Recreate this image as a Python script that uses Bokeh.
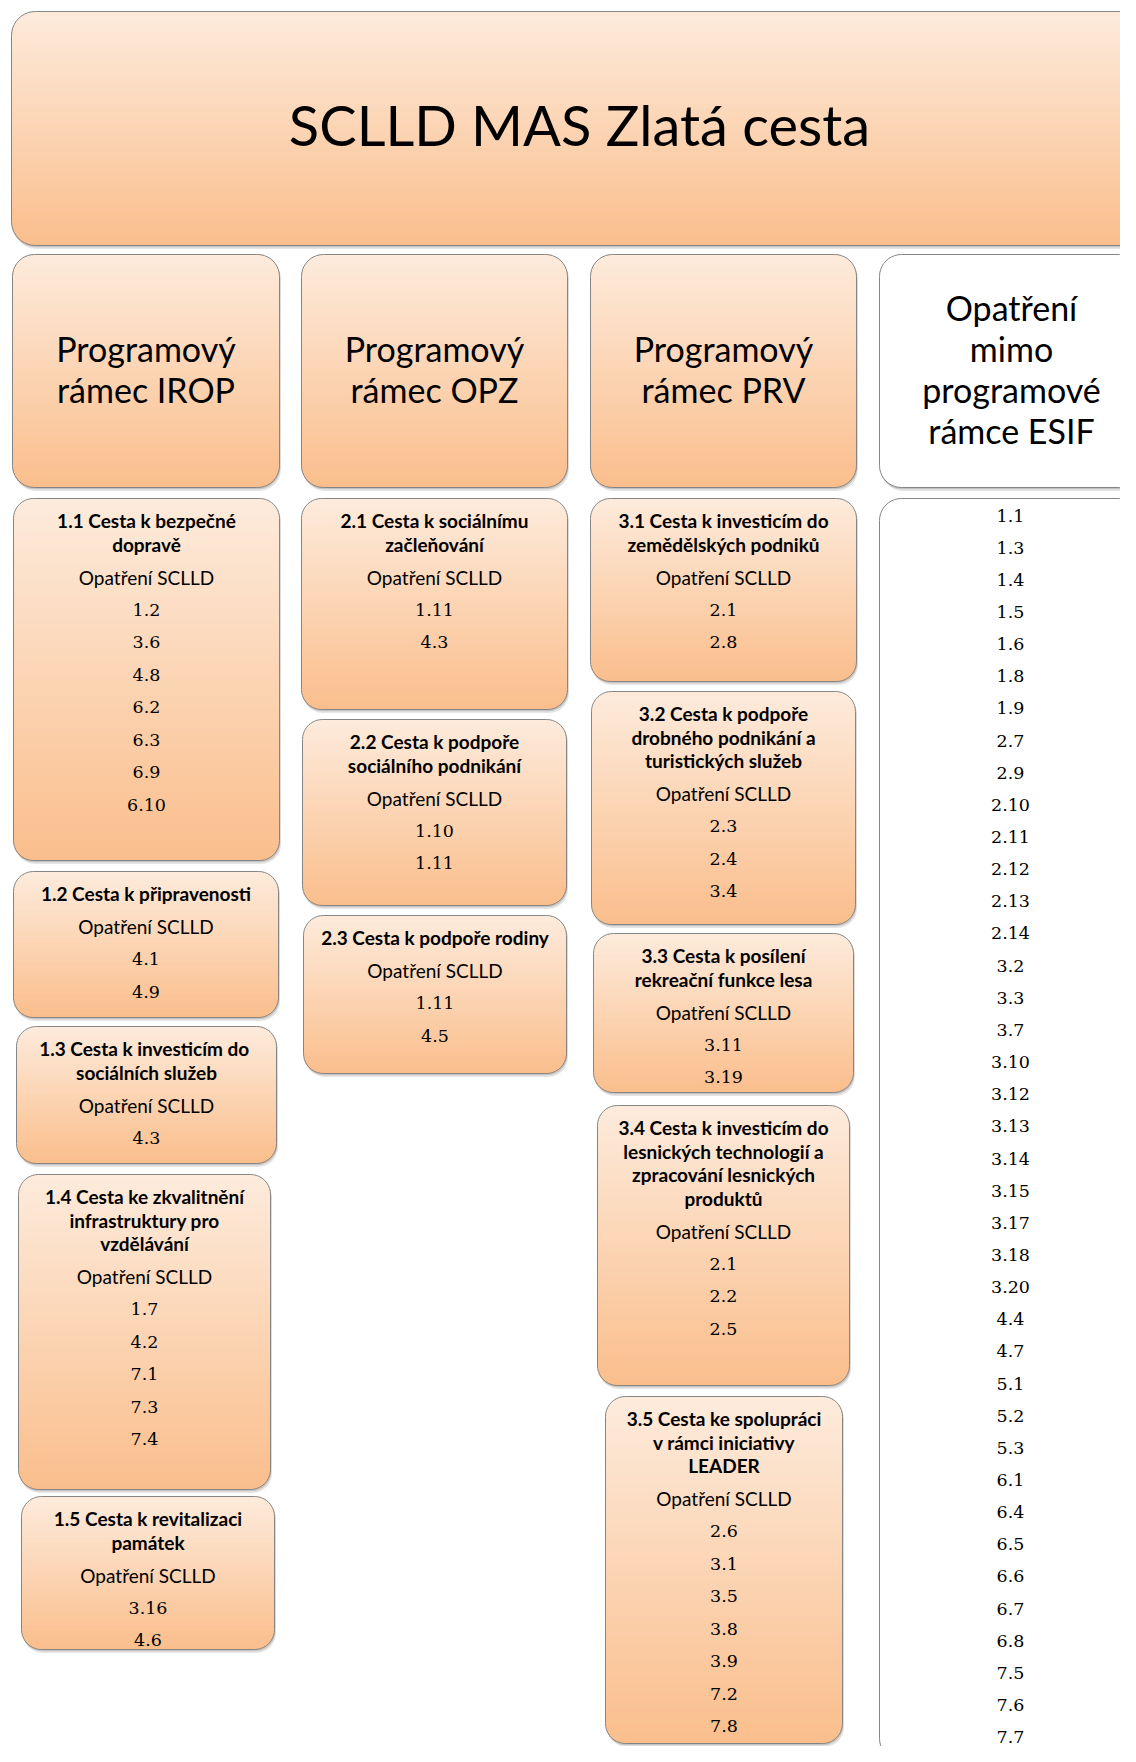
import math
from bokeh.plotting import figure
from bokeh.models import ColumnDataSource, Range1d
from bokeh.core.properties import value
from bokeh.embed import file_html
from bokeh.resources import INLINE

# ---------------- data ----------------
title_text = "SCLLD MAS Zlatá cesta"
frame_labels = ["Programový\nrámec IROP", "Programový\nrámec OPZ",
                "Programový\nrámec PRV", "Opatření\nmimo\nprogramové\nrámce ESIF"]
measure_caption = "Opatření SCLLD"

irop_paths = ["1.1 Cesta k bezpečné\ndopravě", "1.2 Cesta k připravenosti",
              "1.3 Cesta k  investicím do\nsociálních služeb",
              "1.4 Cesta ke zkvalitnění\ninfrastruktury pro\nvzdělávání",
              "1.5 Cesta k revitalizaci\npamátek"]
irop_measures = [["1.2", "3.6", "4.8", "6.2", "6.3", "6.9", "6.10"], ["4.1", "4.9"], ["4.3"],
                 ["1.7", "4.2", "7.1", "7.3", "7.4"], ["3.16", "4.6"]]

opz_paths = ["2.1 Cesta k sociálnímu\nzačleňování", "2.2 Cesta k podpoře\nsociálního podnikání",
             "2.3 Cesta k podpoře rodiny"]
opz_measures = [["1.11", "4.3"], ["1.10", "1.11"], ["1.11", "4.5"]]

prv_paths = ["3.1 Cesta k investicím do\nzemědělských podniků",
             "3.2 Cesta k podpoře\ndrobného podnikání a\nturistických služeb",
             "3.3 Cesta k posílení\nrekreační funkce lesa",
             "3.4 Cesta k investicím do\nlesnických technologií a\nzpracování lesnických\nproduktů",
             "3.5 Cesta ke spolupráci\nv rámci iniciativy\nLEADER"]
prv_measures = [["2.1", "2.8"], ["2.3", "2.4", "3.4"], ["3.11", "3.19"], ["2.1", "2.2", "2.5"],
                ["2.6", "3.1", "3.5", "3.8", "3.9", "7.2", "7.8"]]

outside_measures = ["1.1", "1.3", "1.4", "1.5", "1.6", "1.8", "1.9", "2.7", "2.9", "2.10", "2.11",
                    "2.12", "2.13", "2.14", "3.2", "3.3", "3.7", "3.10", "3.12", "3.13", "3.14",
                    "3.15", "3.17", "3.18", "3.20", "4.4", "4.7", "5.1", "5.2", "5.3", "6.1", "6.4",
                    "6.5", "6.6", "6.7", "6.8", "7.5", "7.6", "7.7"]

# ---------------- layout (pixels) ----------------
TITLE_BOX = (11, 1146, 11, 245)
FRAME_BOXES = [(12, 279, 254, 487), (301, 567, 254, 487), (590, 856, 254, 487), (879, 1141, 254, 487)]
IROP_BOXES = [(13, 279, 498, 860), (13, 278, 871, 1017), (16, 276, 1026, 1163),
              (18, 270, 1174, 1489), (21, 274, 1496, 1649)]
OPZ_BOXES = [(301, 567, 498, 709), (302, 566, 719, 905), (303, 566, 915, 1073)]
PRV_BOXES = [(590, 856, 498, 681), (591, 855, 691, 924), (593, 853, 933, 1092),
             (597, 849, 1105, 1385), (605, 842, 1396, 1743)]
OUTSIDE_BOX = (879, 1141, 498, 1760)

TOP_C = (253, 235, 220)
BOT_C = (250, 190, 140)
EDGE = "#858585"
SANS = "Lato"
SERIF = "DejaVu Serif"

W, H = 1120, 1746
p = figure(width=W, height=H, x_range=Range1d(0, W), y_range=Range1d(H, 0),
           output_backend="svg", toolbar_location=None, min_border=0,
           x_axis_location=None, y_axis_location=None)
p.grid.visible = False
p.outline_line_color = None
p.background_fill_color = "white"
p.border_fill_color = "white"


def rrect(l, r, t, b, rad, n=10):
    xs, ys = [], []
    for i in range(n + 1):
        a = math.pi / 2 * i / n
        xs.append(l + rad - rad * math.cos(a)); ys.append(t + rad - rad * math.sin(a))
    for i in range(n + 1):
        a = math.pi / 2 * i / n
        xs.append(r - rad + rad * math.sin(a)); ys.append(t + rad - rad * math.cos(a))
    for i in range(n + 1):
        a = math.pi / 2 * i / n
        xs.append(r - rad + rad * math.cos(a)); ys.append(b - rad + rad * math.sin(a))
    for i in range(n + 1):
        a = math.pi / 2 * i / n
        xs.append(l + rad - rad * math.sin(a)); ys.append(b - rad + rad * math.cos(a))
    return xs, ys


boxes = []  # (box, radius, gradient?)
boxes.append((TITLE_BOX, 24, True))
for i, bx in enumerate(FRAME_BOXES):
    boxes.append((bx, 22, i < 3))
for bx in IROP_BOXES + OPZ_BOXES + PRV_BOXES:
    boxes.append((bx, 20, True))
boxes.append((OUTSIDE_BOX, 22, False))

# shadows
sh = {"xs": [], "ys": []}
sh2 = {"xs": [], "ys": []}
for (l, r, t, b), rad, g in boxes:
    xs, ys = rrect(l + 1.5, r + 1.5, t + 3, b + 3.5, rad)
    sh["xs"].append(xs); sh["ys"].append(ys)
    xs, ys = rrect(l + 0.5, r + 0.8, t + 1.5, b + 1.8, rad)
    sh2["xs"].append(xs); sh2["ys"].append(ys)
p.patches("xs", "ys", source=ColumnDataSource(sh), fill_color="black", fill_alpha=0.10, line_color=None)
p.patches("xs", "ys", source=ColumnDataSource(sh2), fill_color="black", fill_alpha=0.14, line_color=None)

# fills
white = {"xs": [], "ys": []}
strips = {"left": [], "right": [], "top": [], "bottom": [], "color": []}
for (l, r, t, b), rad, g in boxes:
    if not g:
        xs, ys = rrect(l, r, t, b, rad)
        white["xs"].append(xs); white["ys"].append(ys)
        continue
    y = t
    step = 2.0
    while y < b:
        mid = min(y + step / 2, b)
        inset = 0.0
        if mid < t + rad:
            dy = t + rad - mid
            inset = rad - math.sqrt(max(rad * rad - dy * dy, 0))
        elif mid > b - rad:
            dy = mid - (b - rad)
            inset = rad - math.sqrt(max(rad * rad - dy * dy, 0))
        f = (mid - t) / (b - t)
        c = tuple(int(round(TOP_C[k] + (BOT_C[k] - TOP_C[k]) * f)) for k in range(3))
        strips["left"].append(l + inset); strips["right"].append(r - inset)
        strips["top"].append(y); strips["bottom"].append(min(y + step + 0.6, b))
        strips["color"].append("#%02x%02x%02x" % c)
        y += step
p.patches("xs", "ys", source=ColumnDataSource(white), fill_color="white", line_color=None)
p.quad(left="left", right="right", top="top", bottom="bottom", source=ColumnDataSource(strips),
       fill_color="color", line_color=None)

# outlines
ol = {"xs": [], "ys": []}
for (l, r, t, b), rad, g in boxes:
    xs, ys = rrect(l, r, t, b, rad)
    ol["xs"].append(xs); ol["ys"].append(ys)
p.patches("xs", "ys", source=ColumnDataSource(ol), fill_color=None, line_color=EDGE, line_width=1)

# ---------------- texts ----------------
def cx(bx):
    return (bx[0] + bx[1]) / 2

# title
p.text(x=[579], y=[124], text=[title_text], text_font=value(SANS),
       text_font_size=value("56px"), text_align="center", text_baseline="middle", text_color="black")

# frame headers
fh = {"x": [], "y": [], "text": []}
for i, (bx, lab) in enumerate(zip(FRAME_BOXES, frame_labels)):
    lines = lab.split("\n")
    n = len(lines)
    xc = cx(bx) if i < 3 else 1011
    for k, ln in enumerate(lines):
        fh["x"].append(xc); fh["y"].append(368 + (k - (n - 1) / 2) * 41); fh["text"].append(ln)
p.text(x="x", y="y", text="text", source=ColumnDataSource(fh), text_font=value(SANS),
       text_font_size=value("34px"), text_align="center", text_baseline="middle", text_color="black")

bold = {"x": [], "y": [], "text": []}
cap = {"x": [], "y": [], "text": []}
nums = {"x": [], "y": [], "text": []}
for bxs, paths, meas in ((IROP_BOXES, irop_paths, irop_measures),
                         (OPZ_BOXES, opz_paths, opz_measures),
                         (PRV_BOXES, prv_paths, prv_measures)):
    for bx, pth, ms in zip(bxs, paths, meas):
        x0 = cx(bx)
        y = bx[2] + 22
        lines = pth.split("\n")
        for i, ln in enumerate(lines):
            bold["x"].append(x0); bold["y"].append(y + i * 23.5); bold["text"].append(ln)
        yc = y + (len(lines) - 1) * 23.5 + 33
        cap["x"].append(x0); cap["y"].append(yc); cap["text"].append(measure_caption)
        for k, m in enumerate(ms):
            nums["x"].append(x0); nums["y"].append(yc + 32.5 * (k + 1)); nums["text"].append(m)

for k, m in enumerate(outside_measures):
    nums["x"].append(1010); nums["y"].append(515 + 32.15 * k); nums["text"].append(m)

p.text(x="x", y="y", text="text", source=ColumnDataSource(bold), text_font=value(SANS),
       text_font_style="bold", text_font_size=value("19px"), text_align="center",
       text_baseline="middle", text_color="black")
p.text(x="x", y="y", text="text", source=ColumnDataSource(cap), text_font=value(SANS),
       text_font_size=value("19px"), text_align="center", text_baseline="middle", text_color="black")
p.text(x="x", y="y", text="text", source=ColumnDataSource(nums), text_font=value(SERIF),
       text_font_size=value("17.5px"), text_align="center", text_baseline="middle", text_color="black")

open("out.html", "w").write(file_html(p, INLINE))
